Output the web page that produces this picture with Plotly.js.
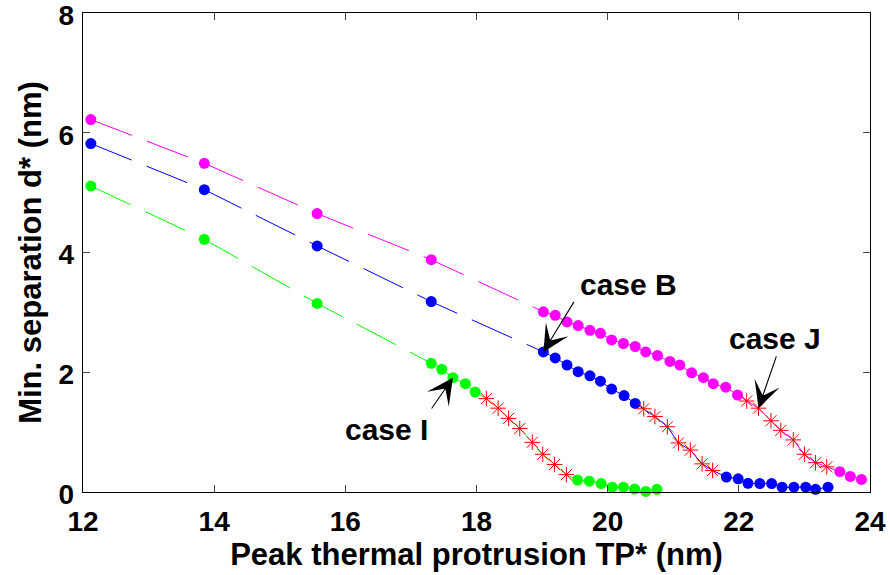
<!DOCTYPE html>
<html>
<head>
<meta charset="utf-8">
<script src="https://cdn.plot.ly/plotly-3.0.1.min.js"></script>
<style>html,body{margin:0;padding:0;background:#fff;}#chart{width:890px;height:575px;}</style>
</head>
<body>
<div id="chart"></div>
<script>
// ---- data ----
const sparseX = [12.12, 13.85, 15.57, 17.31];
const magentaSparseY = [6.22, 5.49, 4.65, 3.88];
const blueSparseY = [5.82, 5.05, 4.11, 3.18];
const greenSparseY = [5.11, 4.22, 3.15];

const greenX = [17.31, 17.47, 17.64, 17.83, 17.98, 18.15, 18.33, 18.49, 18.66, 18.85, 19.01, 19.19, 19.37, 19.54, 19.72, 19.90, 20.07, 20.24, 20.41, 20.58, 20.75];
const greenY = [2.15, 2.05, 1.91, 1.81, 1.67, 1.56, 1.40, 1.23, 1.06, 0.83, 0.63, 0.46, 0.29, 0.20, 0.18, 0.14, 0.08, 0.08, 0.05, 0.01, 0.045];
const greenStar = [0,0,0,0,0,1,1,1,1,1,1,1,1,0,0,0,0,0,0,0,0];

const blueX = [19.02, 19.20, 19.38, 19.55, 19.73, 19.89, 20.06, 20.25, 20.42, 20.55, 20.72, 20.91, 21.08, 21.26, 21.44, 21.60, 21.81, 21.99, 22.14, 22.32, 22.50, 22.66, 22.84, 23.02, 23.17, 23.36];
const blueY = [2.34, 2.24, 2.12, 2.01, 1.94, 1.85, 1.72, 1.61, 1.48, 1.39, 1.26, 1.09, 0.82, 0.70, 0.47, 0.36, 0.25, 0.22, 0.145, 0.14, 0.14, 0.08, 0.08, 0.08, 0.045, 0.08];
const blueStar = [0,0,0,0,0,0,0,0,0,1,1,1,1,1,1,1,0,0,0,0,0,0,0,0,0,0];

const magentaX = [19.02, 19.20, 19.38, 19.55, 19.73, 19.89, 20.06, 20.24, 20.42, 20.58, 20.76, 20.95, 21.10, 21.28, 21.46, 21.61, 21.80, 21.98, 22.12, 22.30, 22.49, 22.64, 22.83, 23.00, 23.17, 23.34, 23.54, 23.70, 23.87];
const magentaY = [3.01, 2.95, 2.84, 2.78, 2.70, 2.65, 2.54, 2.48, 2.43, 2.34, 2.28, 2.18, 2.12, 1.99, 1.91, 1.81, 1.75, 1.62, 1.52, 1.40, 1.19, 1.03, 0.87, 0.63, 0.49, 0.42, 0.34, 0.26, 0.21];
const magentaStar = [0,0,0,0,0,0,0,0,0,0,0,0,0,0,0,0,0,0,1,1,1,1,1,1,1,1,0,0,0];

const xTicks = [12, 14, 16, 18, 20, 22, 24];
const yTicks = [0, 2, 4, 6, 8];

// ---- styling ----
const FONT = 'Liberation Sans, Arial, Helvetica, sans-serif';
const COLORS = {magenta: '#ff00ff', blue: '#0000ff', green: '#00ff00', star: '#ff0000'};
const DOT = 11;

function pick(arr, flags, want) { return arr.filter((v, i) => flags[i] === want); }

const traces = [];
function addSeries(sx, sy, dx, dy, flags, color) {
  traces.push({x: sx.concat([dx[0]]), y: sy.concat([dy[0]]), mode: 'lines',
    line: {color: color, width: 1, dash: '44px,16px'}, hoverinfo: 'skip'});
  traces.push({x: sx, y: sy, mode: 'markers', cliponaxis: false,
    marker: {color: color, size: DOT}, hoverinfo: 'skip'});
  traces.push({x: dx, y: dy, mode: 'lines', line: {color: color, width: 1}, hoverinfo: 'skip'});
  traces.push({x: pick(dx, flags, 0), y: pick(dy, flags, 0), mode: 'markers', cliponaxis: false,
    marker: {color: color, size: DOT}, hoverinfo: 'skip'});
  traces.push({x: pick(dx, flags, 1), y: pick(dy, flags, 1), mode: 'markers', cliponaxis: false,
    marker: {symbol: 'asterisk-open', size: 13, color: COLORS.star, line: {color: COLORS.star, width: 1}}, hoverinfo: 'skip'});
}
addSeries(sparseX, magentaSparseY, magentaX, magentaY, magentaStar, COLORS.magenta);
addSeries(sparseX, blueSparseY, blueX, blueY, blueStar, COLORS.blue);
addSeries(sparseX, greenSparseY, greenX, greenY, greenStar, COLORS.green);

const annFont = {family: FONT, size: 30, color: '#000', weight: 'bold'};
function arrow(tipX, tipY, tailX, tailY) {
  return {x: tipX, y: tipY, ax: tailX, ay: tailY, xref: 'x', yref: 'y', axref: 'x', ayref: 'y',
    text: '', showarrow: true, arrowhead: 3, arrowsize: 4, arrowwidth: 1.1, arrowcolor: '#000', standoff: 0};
}
const annotations = [
  {x: 20.31, y: 3.47, xref: 'x', yref: 'y', text: 'case B', showarrow: false, font: annFont},
  arrow(blueX[0], blueY[0], 19.50, 3.2),
  {x: 16.63, y: 1.05, xref: 'x', yref: 'y', text: 'case I', showarrow: false, font: annFont},
  arrow(greenX[2], greenY[2], 17.30, 1.37),
  {x: 22.55, y: 2.57, xref: 'x', yref: 'y', text: 'case J', showarrow: false, font: annFont},
  arrow(magentaX[19], magentaY[19], 22.58, 2.29)
];

const axisCommon = {
  showgrid: false, zeroline: false, showline: true, linecolor: '#000', linewidth: 1.2,
  mirror: 'ticks', ticks: 'inside', ticklen: 7, tickwidth: 1, tickcolor: '#444',
  ticklabeloverflow: 'allow',
  tickfont: {family: FONT, size: 28, color: '#000', weight: 'bold'}, automargin: false
};

const layout = {
  width: 890, height: 575,
  margin: {l: 83, r: 20, t: 13, b: 83},
  paper_bgcolor: '#fff', plot_bgcolor: '#fff',
  showlegend: false,
  xaxis: Object.assign({}, axisCommon, {
    range: [12, 24], tickvals: xTicks, ticktext: xTicks.map(String), ticklabelstandoff: 4,
    title: {text: 'Peak thermal protrusion TP* (nm)', font: {family: FONT, size: 31, color: '#000', weight: 'bold'}, standoff: 2}
  }),
  yaxis: Object.assign({}, axisCommon, {
    range: [0, 8], tickvals: yTicks, ticktext: yTicks.map(String), ticklabelshift: 2, ticklabelstandoff: 2,
    title: {text: 'Min. separation d* (nm)', font: {family: FONT, size: 31, color: '#000', weight: 'bold'}, standoff: 7}
  }),
  annotations: annotations
};

Plotly.newPlot('chart', traces, layout, {staticPlot: true, displayModeBar: false});
</script>
</body>
</html>
